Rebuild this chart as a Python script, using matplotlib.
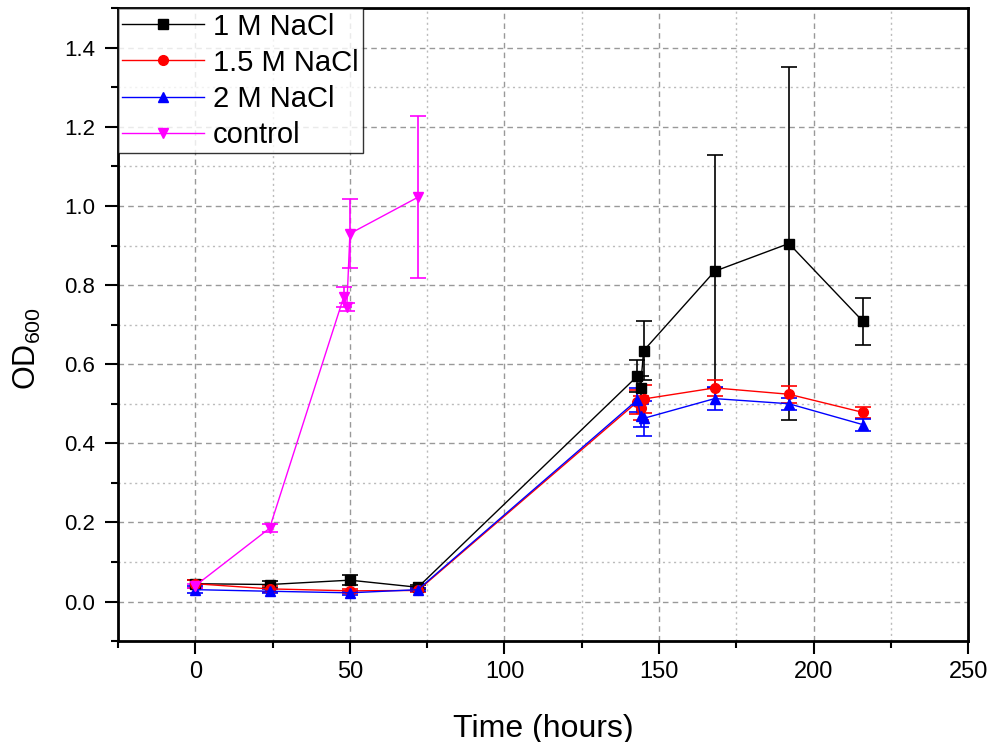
import matplotlib
matplotlib.use("Agg")
import matplotlib.pyplot as plt
from matplotlib.ticker import MultipleLocator

plt.rcParams['font.family'] = ['Liberation Sans', 'DejaVu Sans']
plt.rcParams['mathtext.fontset'] = 'custom'
plt.rcParams['mathtext.rm'] = 'Liberation Sans'
plt.rcParams['mathtext.it'] = 'Liberation Sans'

# Data
t_salt = [0, 24, 50, 72, 143, 144, 145, 168, 192, 216]
od_1M = [0.045, 0.043, 0.054, 0.036, 0.570, 0.540, 0.634, 0.835, 0.905, 0.708]
err_1M = [0.010, 0.010, 0.012, 0.005, 0.040, 0.030, 0.075, 0.295, 0.445, 0.060]
od_15M = [0.045, 0.032, 0.027, 0.028, 0.505, 0.489, 0.512, 0.540, 0.524, 0.478]
err_15M = [0.010, 0.008, 0.005, 0.005, 0.030, 0.030, 0.035, 0.020, 0.022, 0.015]
od_2M = [0.030, 0.026, 0.022, 0.030, 0.510, 0.470, 0.463, 0.513, 0.500, 0.447]
err_2M = [0.008, 0.005, 0.005, 0.004, 0.030, 0.030, 0.045, 0.030, 0.015, 0.015]

t_ctrl = [0, 24, 48, 49, 50, 72]
od_ctrl = [0.040, 0.185, 0.770, 0.745, 0.930, 1.022]
err_ctrl = [0.005, 0.010, 0.025, 0.010, 0.088, 0.205]

labels = ['1 M NaCl', '1.5 M NaCl', '2 M NaCl', 'control']

fig = plt.figure(figsize=(9.92, 7.42), dpi=100)
ax = fig.add_axes([0.119, 0.136, 0.857, 0.853])

series = [
    (t_salt, od_1M, err_1M, 'black', 's', labels[0]),
    (t_salt, od_15M, err_15M, 'red', 'o', labels[1]),
    (t_salt, od_2M, err_2M, 'blue', '^', labels[2]),
    (t_ctrl, od_ctrl, err_ctrl, '#FF00FF', 'v', labels[3]),
]
handles = []
for x, y, e, c, m, lab in series:
    cont = ax.errorbar(x, y, yerr=e, color=c, marker=m, markersize=7, linewidth=1,
                       elinewidth=1.2, capsize=6, capthick=1.2, label=lab, zorder=3)
    handles.append(cont[0])

ax.set_xlim(-25, 250)
ax.set_ylim(-0.1, 1.5)
ax.xaxis.set_major_locator(MultipleLocator(50))
ax.xaxis.set_minor_locator(MultipleLocator(25))
ax.yaxis.set_minor_locator(MultipleLocator(0.1))
ax.set_yticks([0.0, 0.2, 0.4, 0.6, 0.8, 1.0, 1.2, 1.4])
ax.set_yticklabels(['0.0', '0.2', '0.4', '0.6', '0.8', '1.0', '1.2', '1.4'])

ax.grid(which='major', linestyle=(0, (4, 3)), color='#999999', linewidth=1)
ax.grid(which='minor', linestyle=(0, (1.5, 2.5)), color='#bbbbbb', linewidth=1)
ax.set_axisbelow(True)

for s in ax.spines.values():
    s.set_linewidth(2)
ax.tick_params(which='major', direction='out', length=9.5, width=1.5)
ax.tick_params(which='minor', direction='out', length=5, width=1.5)
ax.tick_params(axis='y', labelsize=16, pad=7)
ax.tick_params(axis='x', labelsize=17, pad=5)

ax.set_xlabel('Time (hours)', fontsize=23, labelpad=22)
ax.set_ylabel('OD$_{600}$', fontsize=22)
ax.yaxis.set_label_coords(-0.088, 0.462)

leg = ax.legend(handles, labels, loc='upper left', fontsize=21, frameon=True,
                fancybox=False, borderaxespad=0.0, handlelength=2.8,
                handletextpad=0.3, labelspacing=0.28, borderpad=0.15)
leg.get_frame().set_edgecolor('black')
leg.get_frame().set_linewidth(1)

fig.savefig('out.png', dpi=100)
